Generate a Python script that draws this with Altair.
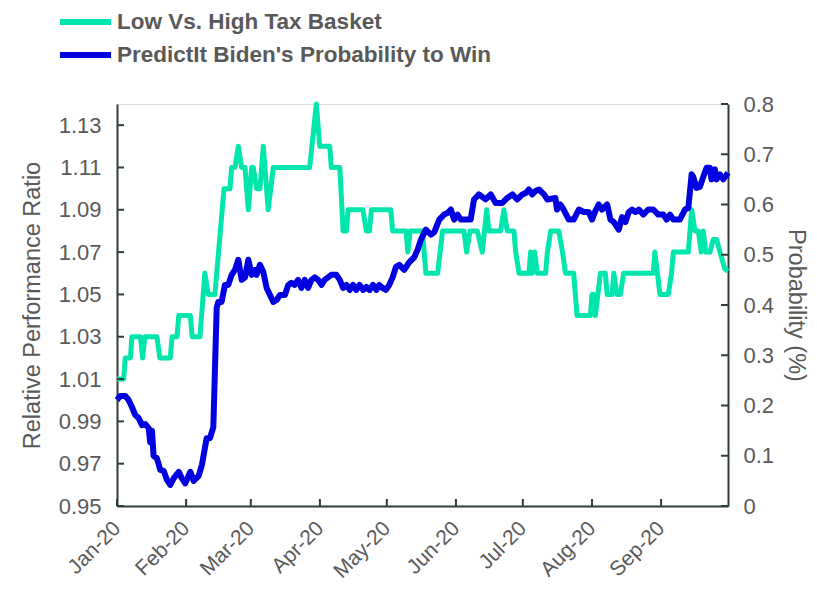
import altair as alt
import pandas as pd

# ---------------- data ----------------
# days since 2020-01-01
g_day = [0, 3, 3.7, 6, 6.7, 10.5, 11.5, 12.5, 17.9, 19.2, 23.9, 24.7, 26.9, 27.7, 32.9, 33.7,
         37.2, 39.4, 40.9, 43.9, 48.0, 50.7, 51.4, 52.9, 54.4, 55.9, 57.4, 58.9, 60.4, 61.1,
         62.6, 64.1, 65.6, 67.8, 70.1, 86.4, 89.4, 90.9, 95.4, 96.1, 99.9, 101.4, 102.9, 103.6,
         110.3, 111.8, 113.2, 114.1, 122.8, 123.6, 129.6, 130.4, 131.5, 137.0, 138.5, 143.8,
         146.0, 155.6, 156.8, 158.3, 161.6, 163.8, 165.8, 166.8, 172.0, 173.5, 175.0, 178.0,
         178.8, 180.3, 184.7, 185.5, 186.2, 187.3, 188.5, 192.2, 193.0, 194.5, 198.1, 199.8,
         201.1, 204.8, 206.3, 212.3, 213.0, 213.8, 214.5, 216.8, 219.0, 219.8, 222.0, 222.8,
         224.2, 225.7, 227.2, 240.5, 241.2, 243.5, 247.2, 248.7, 249.5, 256.2, 257.7, 259.2,
         260.7, 262.0, 262.9, 264.0, 265.9, 267.4, 268.9, 270.4, 272.6, 274.0]
g_val = [1.01, 1.01, 1.02, 1.02, 1.03, 1.03, 1.02, 1.03, 1.03, 1.02, 1.02, 1.03, 1.03, 1.04, 1.04, 1.03,
         1.03, 1.06, 1.05, 1.05, 1.10, 1.10, 1.11, 1.11, 1.12, 1.11, 1.11, 1.09, 1.11, 1.11,
         1.10, 1.10, 1.12, 1.09, 1.11, 1.11, 1.14, 1.12, 1.12, 1.11, 1.11, 1.08, 1.08, 1.09,
         1.09, 1.08, 1.08, 1.09, 1.09, 1.08, 1.08, 1.07, 1.08, 1.08, 1.06, 1.06,
         1.08, 1.08, 1.07, 1.08, 1.08, 1.07, 1.09, 1.08, 1.08, 1.09, 1.08, 1.08,
         1.07, 1.06, 1.06, 1.07, 1.06, 1.07, 1.06, 1.06, 1.07, 1.08, 1.08, 1.07,
         1.06, 1.06, 1.04, 1.04, 1.05, 1.05, 1.04, 1.06, 1.06, 1.05, 1.05, 1.06,
         1.05, 1.05, 1.06, 1.06, 1.07, 1.05, 1.05, 1.06, 1.07, 1.07, 1.09, 1.08,
         1.08, 1.07, 1.08, 1.07, 1.07, 1.076, 1.076, 1.07, 1.062, 1.061]

b_day = [0, 1.5, 3.7, 5.2, 6.7, 8.2, 9.7, 11.2, 12.7, 14.2, 14.9, 15.7, 16.4, 17.9, 19.4, 20.9,
         22.4, 23.9, 25.4, 27.7, 29.1, 30.6, 32.9, 34.4, 36.6, 38.1, 40.2, 41.7, 43.2, 44.7,
         45.4, 46.9, 48.4, 49.9, 51.4, 52.9, 54.4, 55.9, 57.4, 58.9, 60.4, 61.9, 62.6, 64.1,
         65.6, 67.1, 68.6, 70.1, 71.6, 73.1, 75.3, 76.8, 78.2, 79.7, 81.2, 82.7, 84.2, 85.7,
         87.2, 88.7, 90.2, 91.7, 93.1, 94.6, 96.1, 98.4, 99.9, 101.4, 102.9, 104.4, 105.9,
         107.3, 108.8, 110.3, 111.8, 113.3, 114.8, 116.3, 117.6, 119.1, 120.6, 122.1, 123.6,
         125.1, 126.6, 128.8, 131.0, 133.3, 134.8, 136.3, 138.5, 140.8, 142.3, 144.5, 146.7,
         148.2, 149.7, 151.2, 152.7, 154.2, 158.6, 160.1, 162.3, 163.8, 165.3, 167.6, 169.8,
         172.8, 175.0, 177.3, 179.5, 181.8, 183.3, 184.7, 186.2, 187.7, 189.2, 191.5, 193.0,
         196.6, 197.3, 198.8, 200.3, 202.6, 204.8, 207.1, 209.3, 211.5, 213.0, 214.5, 216.0,
         217.5, 219.8, 221.3, 222.8, 225.0, 226.5, 228.0, 229.5, 231.0, 232.5, 234.0, 236.0,
         238.2, 240.5, 242.7, 245.0, 246.5, 248.0, 249.5, 252.4, 254.7, 256.2, 257.7, 258.4,
         259.9, 261.4, 262.9, 264.4, 265.9, 266.6, 268.1, 268.9, 270.4, 271.9, 274.0]
b_val = [0.211, 0.219, 0.219, 0.211, 0.197, 0.181, 0.175, 0.161, 0.163, 0.155, 0.127, 0.150, 0.100, 0.095, 0.072, 0.070,
         0.052, 0.042, 0.055, 0.068, 0.055, 0.045, 0.068, 0.050, 0.060, 0.082, 0.135, 0.135, 0.157, 0.394,
         0.406, 0.406, 0.440, 0.440, 0.460, 0.470, 0.490, 0.450, 0.455, 0.490, 0.460, 0.470, 0.460, 0.480,
         0.466, 0.434, 0.420, 0.406, 0.410, 0.420, 0.420, 0.440, 0.444, 0.440, 0.450, 0.434, 0.450, 0.434,
         0.450, 0.455, 0.450, 0.440, 0.450, 0.455, 0.460, 0.460, 0.450, 0.434, 0.440, 0.430, 0.440,
         0.430, 0.440, 0.430, 0.436, 0.430, 0.440, 0.430, 0.440, 0.434, 0.430, 0.440, 0.455,
         0.476, 0.480, 0.470, 0.485, 0.495, 0.510, 0.530, 0.550, 0.540, 0.545, 0.570, 0.580,
         0.583, 0.590, 0.570, 0.580, 0.570, 0.570, 0.610, 0.620, 0.615, 0.610, 0.620, 0.603,
         0.603, 0.613, 0.620, 0.610, 0.620, 0.623, 0.630, 0.620, 0.627, 0.630, 0.620, 0.610,
         0.613, 0.590, 0.600, 0.590, 0.570, 0.570, 0.590, 0.585, 0.585, 0.570, 0.587, 0.600,
         0.590, 0.600, 0.570, 0.565, 0.550, 0.575, 0.565, 0.585, 0.590, 0.585, 0.590, 0.580,
         0.590, 0.590, 0.580, 0.580, 0.570, 0.580, 0.570, 0.570, 0.590, 0.593, 0.660, 0.655,
         0.633, 0.635, 0.655, 0.673, 0.673, 0.650, 0.670, 0.650, 0.660, 0.650, 0.663]

SERIES = ["Low Vs. High Tax Basket", "PredictIt Biden's Probability to Win"]
COLORS = ["#00E6AC", "#0000E0"]
MONTHS = ["2020-01-01", "2020-02-01", "2020-03-01", "2020-04-01", "2020-05-01",
          "2020-06-01", "2020-07-01", "2020-08-01", "2020-09-01"]
LEFT_TICKS = [0.95, 0.97, 0.99, 1.01, 1.03, 1.05, 1.07, 1.09, 1.11, 1.13]
RIGHT_TICKS = [0, 0.1, 0.2, 0.3, 0.4, 0.5, 0.6, 0.7, 0.8]
LEFT_TITLE = "Relative Performance Ratio"
RIGHT_TITLE = "Probability (%)"

# ---------------- tables ----------------
start = pd.Timestamp("2020-01-01")


def to_iso(days):
    return [(start + pd.Timedelta(days=d)).strftime("%Y-%m-%dT%H:%M:%SZ") for d in days]


green_df = pd.DataFrame({"date": to_iso(g_day), "value": g_val, "series": SERIES[0]})
blue_df = pd.DataFrame({"date": to_iso(b_day), "value": b_val, "series": SERIES[1]})
month_df = pd.DataFrame({"date": [m + "T00:00:00Z" for m in MONTHS]})
lt_df = pd.DataFrame({"v": LEFT_TICKS})
rt_df = pd.DataFrame({"v": RIGHT_TICKS})

W, H = 611, 402
FONT = "Liberation Sans"
TXT = "#595959"
AX = "#2F3E36"
TICK_FS = 22
TITLE_FS = 23.5

x_enc = alt.X(
    "date:T",
    scale=alt.Scale(type="utc",
                    domain=[alt.DateTime(year=2020, month=1, date=1, utc=True),
                            alt.DateTime(year=2020, month=10, date=1, utc=True)]),
    axis=alt.Axis(values=[alt.DateTime(year=2020, month=i, date=1, utc=True) for i in range(1, 10)],
                  format="%b-%y", labelAngle=315, labelAlign="right", labelBaseline="middle",
                  labelPadding=19, labelFontSize=21, labelColor=TXT, labelFont=FONT,
                  labelOverlap=False, labelFlush=False, ticks=False, grid=False,
                  domainColor=AX, domainWidth=2, title=None),
)

left_scale = alt.Scale(domain=[0.95, 1.14], nice=False, zero=False)
left_axis = alt.Axis(values=LEFT_TICKS, format=".2f", orient="left", ticks=False, grid=False,
                     labelFontSize=TICK_FS, labelColor=TXT, labelFont=FONT, labelPadding=16,
                     domainColor=AX, domainWidth=2, title=LEFT_TITLE, titleFontSize=TITLE_FS,
                     titleFontWeight="normal", titleColor=TXT, titleFont=FONT, titlePadding=14)
right_scale = alt.Scale(domain=[0, 0.8], nice=False)
right_axis = alt.Axis(values=RIGHT_TICKS, format=".1~f", orient="right", ticks=False, grid=False,
                      labelFontSize=TICK_FS, labelColor=TXT, labelFont=FONT, labelPadding=15,
                      domainColor=AX, domainWidth=2, title=RIGHT_TITLE, titleFontSize=TITLE_FS,
                      titleFontWeight="normal", titleColor=TXT, titleFont=FONT, titlePadding=10)

color_enc = alt.Color(
    "series:N",
    scale=alt.Scale(domain=SERIES, range=COLORS),
    legend=alt.Legend(title=None, orient="none", legendX=-60, legendY=-95, direction="vertical",
                      symbolType="stroke", symbolSize=2601, symbolStrokeWidth=6, clipHeight=26,
                      rowPadding=7, labelFontSize=22.5, labelFontWeight="bold", labelColor=TXT,
                      labelFont=FONT, labelOffset=3, labelLimit=600, padding=0),
)

green_line = alt.Chart(green_df).mark_line(strokeWidth=5, strokeJoin="round").encode(
    x=x_enc, y=alt.Y("value:Q", scale=left_scale, axis=left_axis), color=color_enc)
left_ticks = alt.Chart(lt_df).mark_rule(color=AX, strokeWidth=2).encode(
    y=alt.Y("v:Q", scale=left_scale, axis=left_axis), x=alt.value(0), x2=alt.value(7))
x_ticks = alt.Chart(month_df).mark_rule(color=AX, strokeWidth=2).encode(
    x=x_enc, y=alt.value(H), y2=alt.value(H - 7))

blue_line = alt.Chart(blue_df).mark_line(strokeWidth=6, strokeJoin="round").encode(
    x=x_enc, y=alt.Y("value:Q", scale=right_scale, axis=right_axis), color=color_enc)
right_ticks = alt.Chart(rt_df).mark_rule(color=AX, strokeWidth=2).encode(
    y=alt.Y("v:Q", scale=right_scale, axis=right_axis), x=alt.value(W), x2=alt.value(W - 7))

chart = alt.layer(
    alt.layer(green_line, left_ticks, x_ticks),
    alt.layer(blue_line, right_ticks),
).resolve_scale(y="independent").properties(
    width=W, height=H,
    autosize=alt.AutoSizeParams(type="none"),
    padding={"left": 109, "top": 96, "right": 81, "bottom": 75},
    background="white",
).configure_view(stroke=None).configure(font=FONT)

chart.save("out.html", embed_options={"renderer": "svg", "actions": False})
